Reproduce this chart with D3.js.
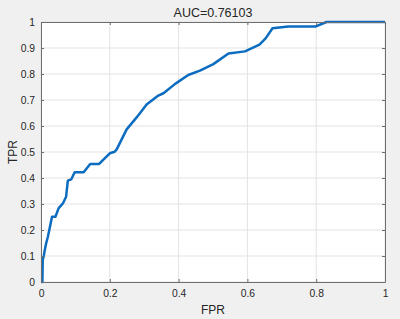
<!DOCTYPE html>
<html>
<head>
<meta charset="utf-8">
<script src="https://cdn.jsdelivr.net/npm/d3@7"></script>
<style>
  html, body { margin: 0; padding: 0; background: #f0f0f0; }
  svg { display: block; }
  text { font-family: "Liberation Sans", Arial, sans-serif; fill: #262626; }
</style>
</head>
<body>
<svg id="chart" width="400" height="319"></svg>
<script>
const titleText = "AUC=0.76103";
const xLabel = "FPR";
const yLabel = "TPR";
const xTicks = [0, 0.2, 0.4, 0.6, 0.8, 1];
const yTicks = [0, 0.1, 0.2, 0.3, 0.4, 0.5, 0.6, 0.7, 0.8, 0.9, 1];

const fpr = [0, 0.004, 0.005, 0.008, 0.011, 0.015, 0.02, 0.025, 0.032, 0.042, 0.051, 0.064, 0.073, 0.078, 0.088, 0.098, 0.124, 0.143, 0.169, 0.18, 0.2, 0.214, 0.22, 0.249, 0.278, 0.307, 0.341, 0.356, 0.39, 0.428, 0.462, 0.501, 0.545, 0.593, 0.635, 0.653, 0.673, 0.719, 0.799, 0.83, 1];
const tpr = [0, 0, 0.085, 0.1, 0.123, 0.149, 0.174, 0.206, 0.251, 0.251, 0.283, 0.303, 0.328, 0.39, 0.395, 0.422, 0.422, 0.454, 0.454, 0.469, 0.495, 0.501, 0.51, 0.587, 0.633, 0.683, 0.717, 0.726, 0.762, 0.796, 0.813, 0.838, 0.879, 0.887, 0.913, 0.937, 0.976, 0.983, 0.983, 1, 1];

const svg = d3.select("#chart");
const m = { left: 41, right: 15, top: 22, bottom: 37 };
const W = 400, H = 319;
const x = d3.scaleLinear().domain([0, 1]).range([m.left, W - m.right]);
const y = d3.scaleLinear().domain([0, 1]).range([H - m.bottom, m.top]);

svg.append("rect").attr("x", m.left).attr("y", m.top)
  .attr("width", x(1) - x(0)).attr("height", y(0) - y(1)).attr("fill", "#ffffff");

// grid
svg.append("g").selectAll("line").data(xTicks).join("line")
  .attr("x1", d => x(d)).attr("x2", d => x(d)).attr("y1", y(0)).attr("y2", y(1))
  .attr("stroke", "#e3e3e3").attr("stroke-width", 1);
svg.append("g").selectAll("line").data(yTicks).join("line")
  .attr("y1", d => y(d)).attr("y2", d => y(d)).attr("x1", x(0)).attr("x2", x(1))
  .attr("stroke", "#e3e3e3").attr("stroke-width", 1);

// curve
svg.append("path")
  .datum(fpr.map((v, i) => [v, tpr[i]]))
  .attr("fill", "none").attr("stroke", "#0b6cc0").attr("stroke-width", 2.5)
  .attr("stroke-linejoin", "round")
  .attr("d", d3.line().x(d => x(d[0])).y(d => y(d[1])));

// axes
const fmt = d => d3.format("~g")(d);
const tickLen = 3;
const ax = svg.append("g").attr("transform", `translate(0,${y(0)})`)
  .call(d3.axisBottom(x).tickValues(xTicks).tickFormat(fmt).tickSizeInner(-tickLen).tickSizeOuter(0).tickPadding(8));
const ay = svg.append("g").attr("transform", `translate(${x(0)},0)`)
  .call(d3.axisLeft(y).tickValues(yTicks).tickFormat(fmt).tickSizeInner(-tickLen).tickSizeOuter(0).tickPadding(6));
const axT = svg.append("g").attr("transform", `translate(0,${y(1)})`)
  .call(d3.axisTop(x).tickValues(xTicks).tickFormat("").tickSizeInner(-tickLen).tickSizeOuter(0));
const ayR = svg.append("g").attr("transform", `translate(${x(1)},0)`)
  .call(d3.axisRight(y).tickValues(yTicks).tickFormat("").tickSizeInner(-tickLen).tickSizeOuter(0));
[ax, ay, axT, ayR].forEach(g => {
  g.selectAll("path.domain").attr("stroke", "#6e6e6e").attr("stroke-width", 1);
  g.selectAll(".tick line").attr("stroke", "#6e6e6e");
  g.selectAll(".tick text").attr("font-size", 10.3).attr("fill", "#262626")
    .attr("font-family", "'Liberation Sans', Arial, sans-serif");
});

svg.append("text").attr("x", (x(0) + x(1)) / 2).attr("y", 17)
  .attr("text-anchor", "middle").attr("font-size", 12.5).text(titleText);
svg.append("text").attr("x", (x(0) + x(1)) / 2).attr("y", 313.5)
  .attr("text-anchor", "middle").attr("font-size", 12).text(xLabel);
svg.append("text").attr("transform", `translate(16.5,${(y(0) + y(1)) / 2}) rotate(-90)`)
  .attr("text-anchor", "middle").attr("font-size", 12).text(yLabel);
</script>
</body>
</html>
